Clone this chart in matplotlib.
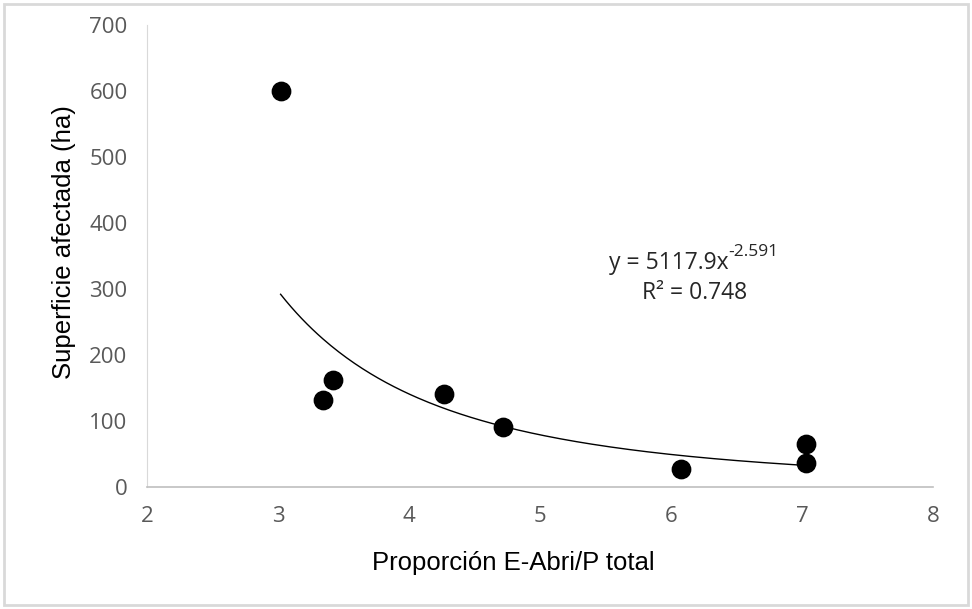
import matplotlib.pyplot as plt
import numpy as np
from matplotlib.patches import Rectangle

# data
prop = [3.02, 3.34, 3.42, 4.27, 4.72, 6.08, 7.03, 7.03]
area = [600, 132, 162, 141, 91, 27, 65, 36]
a_fit = 5117.9
b_fit = -2.591

fig = plt.figure(figsize=(9.72, 6.09), dpi=100)
ax = fig.add_axes([0.1512, 0.2003, 0.8087, 0.7587])

xx = np.linspace(min(prop), max(prop), 200)
ax.plot(xx, a_fit * xx ** b_fit, color='black', lw=1)
ax.scatter(prop, area, s=175, color='black', zorder=3)

ax.set_xlim(2, 8)
ax.set_ylim(0, 700)
ax.set_xticks(range(2, 9))
ax.set_yticks(range(0, 701, 100))
for s in ['top', 'right']:
    ax.spines[s].set_visible(False)
ax.spines['left'].set_color('#d9d9d9')
ax.spines['bottom'].set_color('#bfbfbf')
ax.spines['bottom'].set_linewidth(1.2)
ax.tick_params(length=0, labelsize=16, labelcolor='#595959')
ax.tick_params(axis='x', pad=14)
ax.tick_params(axis='y', pad=14)
for lab in ax.get_xticklabels() + ax.get_yticklabels():
    lab.set_family('Open Sans')

ax.set_xlabel('Proporción E-Abri/P total', fontsize=18.5, family='Liberation Sans', va='center')
ax.xaxis.set_label_coords(0.466, -0.165)
ax.set_ylabel('Superficie afectada (ha)', fontsize=18.5, family='Liberation Sans', va='center')
ax.yaxis.set_label_coords(-0.106, 0.53)

eq = ax.text(5.98, 339, 'y = 5117.9x', fontsize=16.5, family='Open Sans', color='#262626',
             ha='center', va='center')
ax.annotate('-2.591', xy=(1, 0.62), xycoords=eq, fontsize=12.5, family='Open Sans',
            color='#262626', ha='left', va='bottom')
ax.text(6.18, 294, 'R² = 0.748', fontsize=16.5, family='Open Sans', color='#262626',
        ha='center', va='center')

fig.patches.append(Rectangle((0.004, 0.006), 0.992, 0.988, transform=fig.transFigure,
                             fill=False, edgecolor='#d9d9d9', lw=2))

fig.savefig('out.png', dpi=100)
